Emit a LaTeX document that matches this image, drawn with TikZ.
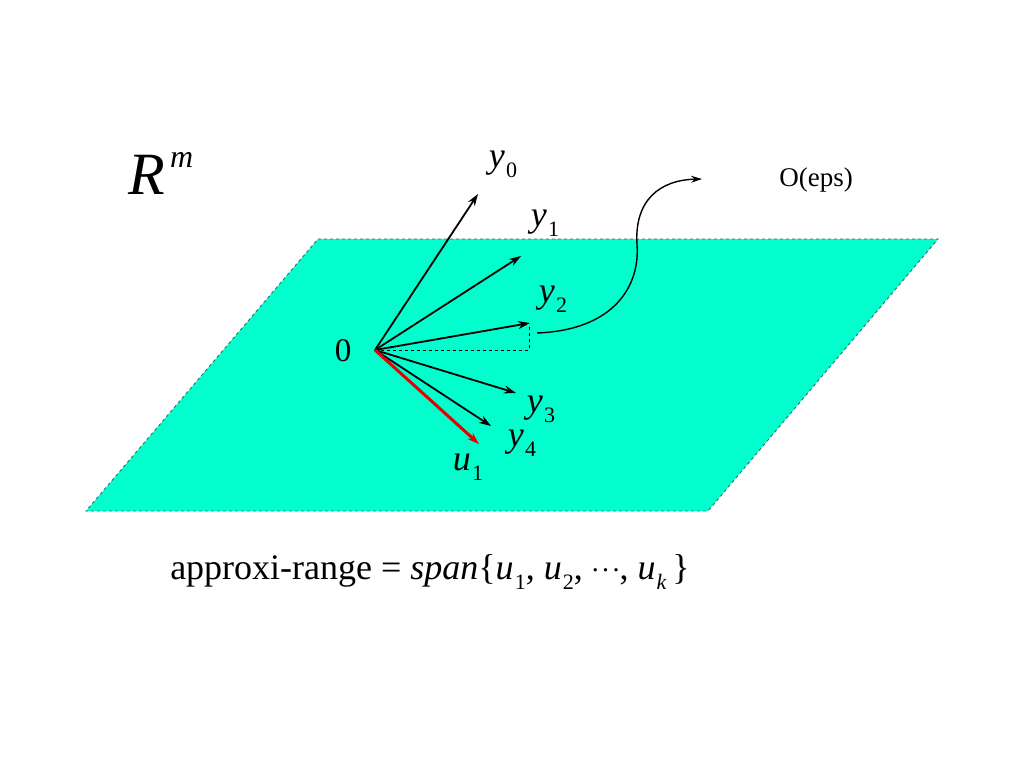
\documentclass[tikz,border=0pt]{standalone}
\usepackage{fontspec}
\setmainfont{Liberation Serif}
\usetikzlibrary{arrows.meta}
\definecolor{plane}{HTML}{00FFCC}
\definecolor{planeedge}{HTML}{2E6E66}
\newcommand{\lab}[2]{{\itshape #1}\kern0.03em\raisebox{-0.28em}{\fontsize{22}{24}\selectfont #2}}
\newcommand{\labs}[2]{{\itshape #1}\kern0.03em\raisebox{-0.28em}{\fontsize{22}{24}\selectfont #2}}
\newcommand{\mydots}{\raisebox{0.22em}{\fontsize{28}{30}\selectfont .\kern0.12em.\kern0.12em.}}
\begin{document}
\begin{tikzpicture}[x=1pt,y=-1pt,
  vec/.style={-{Stealth[length=12pt,width=8pt]}, line width=1.8pt},
  lbl/.style={inner sep=0pt, font=\fontsize{36}{40}\selectfont},
  ]
\useasboundingbox (0,0) rectangle (1024,768);
\fill[white] (0,0) rectangle (1024,768);
% plane
\filldraw[fill=plane, draw=planeedge, dashed, line width=0.9pt]
  (318,239) coordinate (p1) -- (938,239) coordinate (p2) -- (708,511) coordinate (p3) -- (86,511) coordinate (p4) -- cycle;
% origin
\coordinate (o) at (375,350);
\coordinate (t0) at (478,194);
\coordinate (t1) at (521,256);
\coordinate (t2) at (530,323);
\coordinate (t3) at (516,393);
\coordinate (t4) at (491,426);
\coordinate (tu) at (479,444);
\coordinate (dc) at (529,350);
\draw[dashed, line width=0.9pt] (o) -- (dc) -- (529,324);
\draw[vec] (o) -- (t0);
\draw[vec] (o) -- (t1);
\draw[vec] (o) -- (t2);
\draw[vec] (o) -- (t3);
\draw[vec] (o) -- (t4);
\draw[vec, red!90!black, line width=3pt] (o) -- (tu);
% labels
\node[lbl] (l0) at (503,164) {\lab{y}{0}};
\node[lbl] (l1) at (545,223) {\lab{y}{1}};
\node[lbl] (l2) at (553,299) {\lab{y}{2}};
\node[lbl] (l3) at (541,409) {\lab{y}{3}};
\node[lbl] (l4) at (522,443) {\lab{y}{4}};
\node[lbl] (lu) at (468,467) {\lab{u}{1}};
\node[inner sep=0pt, font=\fontsize{33}{36}\selectfont] (zero) at (343,351) {0};
\node[inner sep=0pt, font=\fontsize{60}{62}\selectfont] (rm) at (161,173) {\itshape R\kern0.08em\raisebox{0.45em}{\fontsize{32}{34}\selectfont m}};
% curve to O(eps)
\coordinate (cs) at (537,333);
\coordinate (ce) at (702,179);
\draw[-{Stealth[length=11pt,width=7pt]}, line width=1.4pt] (cs) .. controls (615,330) and (640,285) .. (637,245) .. controls (634,200) and (660,180) .. (ce);
\node[inner sep=0pt, font=\fontsize{27}{30}\selectfont] (eps) at (816,180) {O(eps)};
% bottom formula
\node[inner sep=0pt, font=\fontsize{36}{40}\selectfont] (fm) at (430,572) {approxi-range = {\itshape span}\{\labs{u}{1}, \labs{u}{2}, \mydots, \labs{u}{\itshape k}\,\}};
\end{tikzpicture}
\end{document}
